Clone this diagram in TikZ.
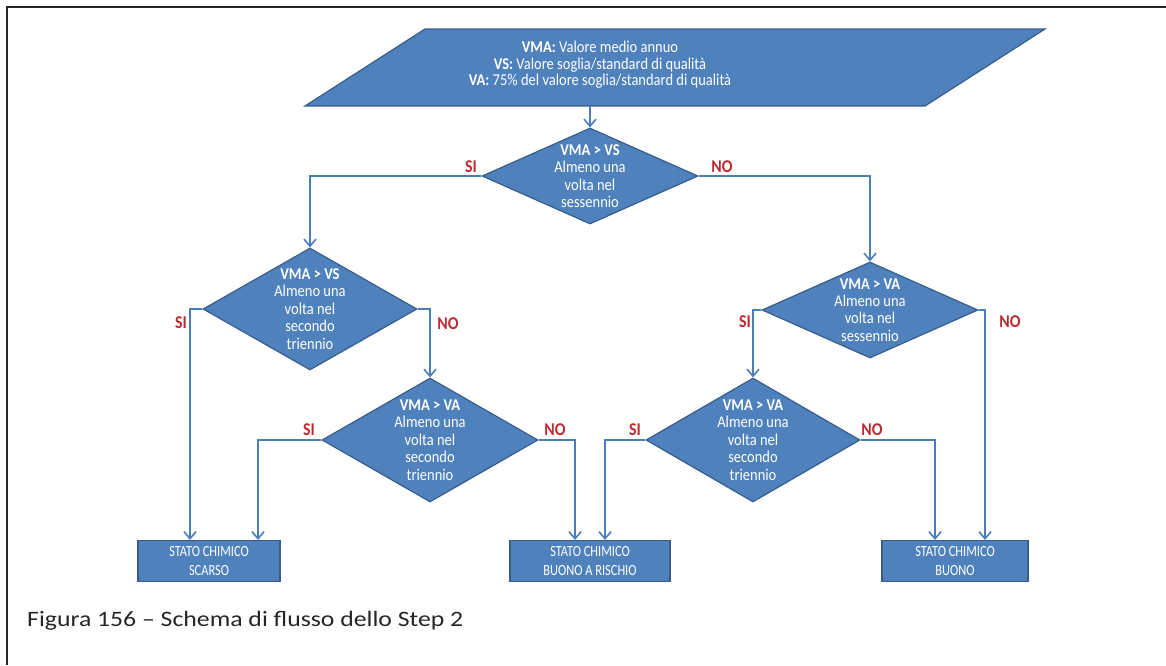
\documentclass[tikz,border=0pt]{standalone}
\usepackage{fontspec}
\setmainfont{Carlito}
\newfontfamily\dfont[FakeStretch=0.88]{Carlito}
\newfontfamily\bxfont[FakeStretch=0.8]{Carlito}
\newfontfamily\capfont[FakeStretch=1.17]{Carlito}
\usetikzlibrary{shapes.geometric,arrows.meta}
\definecolor{fillblue}{HTML}{4F81BD}
\definecolor{edgeblue}{HTML}{385D8A}
\definecolor{lineblue}{HTML}{4A7EBB}
\definecolor{labred}{HTML}{C0282D}
\tikzset{
  shapefill/.style={fill=fillblue,draw=edgeblue,line width=1.2},
  decision/.style={shape=diamond,shapefill,inner sep=0,minimum width=#1},
  dtext/.style={text=white,align=center,font=\dfont\fontsize{16.5}{17.4}\selectfont},
  outbox/.style={shapefill,minimum height=41,text=white,align=center,inner sep=0,font=\bxfont\fontsize{15.5}{19}\selectfont},
  conn/.style={draw=lineblue,line width=2.2,-{Straight Barb[length=7,width=12,line width=1.6]}},
  answer/.style={text=labred,font=\dfont\fontsize{18}{18}\selectfont\bfseries}
}
\begin{document}
\begin{tikzpicture}[x=1pt,y=-1pt]
\useasboundingbox (0,0) rectangle (1166,665);
\draw[line width=2,black!85] (6.5,665) -- (6.5,7) -- (1166,7);
% legend parallelogram
\path[shapefill] (425,29) -- (1045,29) -- (925,106) -- (305,106) -- cycle;
\node[dtext,font=\dfont\fontsize{16.5}{16.6}\selectfont] (legend) at (600,65) {\textbf{VMA:} Valore medio annuo\\\textbf{VS:} Valore soglia/standard di qualità\\\textbf{VA:} 75\% del valore soglia/standard di qualità};
\coordinate (lb) at (590,106);
% decisions
\node[decision=216,minimum height=96,label={[dtext]center:\textbf{VMA > VS}\\Almeno una\\volta nel\\sessennio}] (d1) at (590,176) {};
\node[decision=214,minimum height=122,label={[dtext]center:\textbf{VMA > VS}\\Almeno una\\volta nel\\secondo\\triennio}] (d2) at (310,309) {};
\node[decision=216,minimum height=96,label={[dtext]center:\textbf{VMA > VA}\\Almeno una\\volta nel\\sessennio}] (d3) at (870,310) {};
\node[decision=216,minimum height=124,label={[dtext]center:\textbf{VMA > VA}\\Almeno una\\volta nel\\secondo\\triennio}] (d4) at (430,440) {};
\node[decision=214,minimum height=124,label={[dtext]center:\textbf{VMA > VA}\\Almeno una\\volta nel\\secondo\\triennio}] (d5) at (753,440) {};
% outcomes
\node[outbox,minimum width=142] (b1) at (209,561) {STATO CHIMICO\\SCARSO};
\node[outbox,minimum width=160] (b2) at (590,561) {STATO CHIMICO\\BUONO A RISCHIO};
\node[outbox,minimum width=146] (b3) at (955,561) {STATO CHIMICO\\BUONO};
% connectors
\draw[conn] (lb) -- (d1.north);
\draw[conn] (d1.west) -| (d2.north);
\draw[conn] (d1.east) -| (d3.north);
\draw[conn] (d2.west) -| ([xshift=-19]b1.north);
\draw[conn] (d2.east) -| (d4.north);
\draw[conn] (d4.west) -| ([xshift=49]b1.north);
\draw[conn] (d4.east) -| ([xshift=-15]b2.north);
\draw[conn] (d3.west) -| (d5.north);
\draw[conn] (d3.east) -| ([xshift=30]b3.north);
\draw[conn] (d5.west) -| ([xshift=15]b2.north);
\draw[conn] (d5.east) -| ([xshift=-20]b3.north);
% answers
\node[answer] (a1s) at (471,167) {SI};
\node[answer] (a1n) at (722,167) {NO};
\node[answer] (a2s) at (181,323) {SI};
\node[answer] (a2n) at (448,324) {NO};
\node[answer] (a3s) at (745,322) {SI};
\node[answer] (a3n) at (1010,322) {NO};
\node[answer] (a4s) at (309,430) {SI};
\node[answer] (a4n) at (555,430) {NO};
\node[answer] (a5s) at (635,430) {SI};
\node[answer] (a5n) at (872,430) {NO};
% caption
\node[anchor=west,inner sep=0,font=\capfont\fontsize{22}{24}\selectfont,text=black!85] (cap) at (27,621) {Figura 156 – Schema di flusso dello Step 2};
\end{tikzpicture}
\end{document}
